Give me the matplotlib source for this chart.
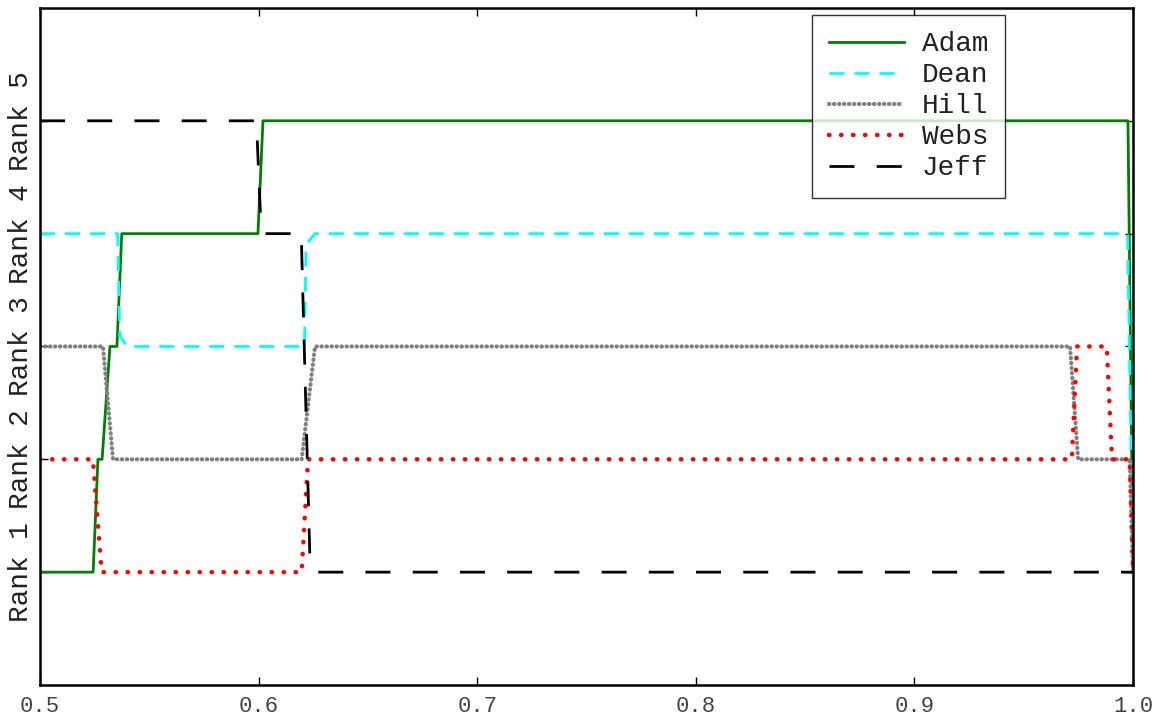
import matplotlib
matplotlib.use("Agg")
import matplotlib.pyplot as plt

names = ["Adam", "Dean", "Hill", "Webs", "Jeff"]

adam_x = [0.5, 0.5243, 0.5265, 0.5284, 0.5320, 0.5352, 0.5374, 0.5997, 0.6020, 0.9977, 1.0]
adam_y = [1, 1, 2, 2, 3, 3, 4, 4, 5, 5, 1]

dean_x = [0.5, 0.5355, 0.5365, 0.5397, 0.6210, 0.6217, 0.6258, 0.9975, 1.0]
dean_y = [4, 4, 3.1, 3, 3, 3.9, 4, 4, 1]

hill_x = [0.5, 0.5288, 0.5334, 0.6197, 0.6258, 0.9712, 0.9749, 0.9985, 1.0]
hill_y = [3, 3, 2, 2, 3, 3, 2, 2, 1]

webs_x = [0.5, 0.5242, 0.5282, 0.6197, 0.6226, 0.9720, 0.9744, 0.9880, 0.9904, 0.9985, 1.0]
webs_y = [2, 2, 1, 1, 2, 2, 3, 3, 2, 2, 1]

jeff_x = [0.5, 0.5990, 0.6010, 0.6030, 0.6195, 0.6235, 0.6265, 1.0]
jeff_y = [5, 5, 4.1, 4, 4, 1.1, 1, 1]

xticks = [0.5, 0.6, 0.7, 0.8, 0.9, 1.0]
xtick_labels = ["0.5", "0.6", "0.7", "0.8", "0.9", "1.0"]
yticks = [1, 2, 3, 4, 5]
ytick_labels = ["Rank 1", "Rank 2", "Rank 3", "Rank 4", "Rank 5"]

fig = plt.figure(figsize=(11.63, 7.25), dpi=100)
ax = fig.add_axes([0.0344, 0.0552, 0.9398, 0.9338])

ax.plot(adam_x, adam_y, color="green", lw=2, label=names[0])
ax.plot(dean_x, dean_y, color="cyan", lw=2, linestyle=(0, (5.4, 3.6)), label=names[1])
ax.plot(hill_x, hill_y, color="gray", lw=3.0, linestyle=(0, (0.1, 1.1)),
        dash_capstyle="round", label=names[2])
ax.plot(webs_x, webs_y, color="red", lw=3.2, linestyle=(0, (0.1, 2.6)),
        dash_capstyle="round", label=names[3])
ax.plot(jeff_x, jeff_y, color="black", lw=2, linestyle=(0, (9, 8)), label=names[4])

ax.set_xlim(0.5, 1.0)
ax.set_ylim(0, 6)
ax.set_xticks(xticks)
ax.set_xticklabels(xtick_labels, fontsize=16, family="Liberation Mono", color="#444444")
ax.set_yticks(yticks)
ax.set_yticklabels(ytick_labels, fontsize=20, family="Liberation Mono", rotation=90,
                   va="center", color="#222222")
ax.tick_params(direction="in", length=6, width=1, top=True, right=True)
ax.tick_params(axis="x", pad=8)
ax.tick_params(axis="y", pad=4)
for s in ax.spines.values():
    s.set_linewidth(1.8)

leg = ax.legend(loc="upper right", bbox_to_anchor=(0.883, 0.99), frameon=True,
                fancybox=False, edgecolor="black", handlelength=2.7,
                prop={"family": "Liberation Mono", "size": 20}, borderpad=0.6,
                labelspacing=0.18, handletextpad=0.65, borderaxespad=0)
leg.get_frame().set_linewidth(1.0)
for t in leg.get_texts():
    t.set_color("#222222")

fig.savefig("out.png", dpi=100)
